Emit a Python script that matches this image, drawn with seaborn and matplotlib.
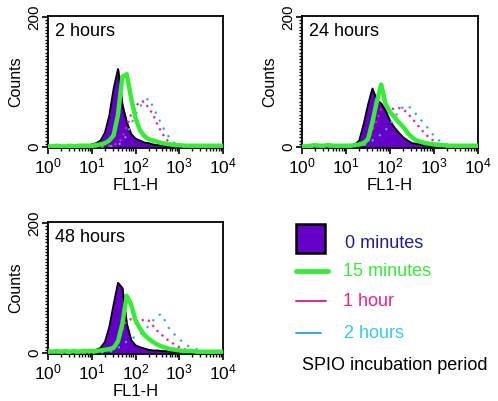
import numpy as np
import pandas as pd
import matplotlib
matplotlib.use('Agg')
import matplotlib.pyplot as plt
import matplotlib.ticker as mticker
from matplotlib.lines import Line2D
from matplotlib.patches import Rectangle
import seaborn as sns

# log10 of FL1-H channel (bin centres)
log_fl1 = [round(0.1 * i, 1) for i in range(41)]
decades = [0, 1, 2, 3, 4]

# counts per panel: 0 minutes (filled), 15 minutes, 1 hour, 2 hours
h2_0min = [1, 0, 1, 0, 1, 1, 1, 2, 2, 3, 4, 6, 10, 22, 48, 90, 120, 65, 38, 20, 13,
           10, 7, 6, 4, 3, 3, 2, 2, 1, 1, 1, 1, 0, 1, 0, 0, 0, 0, 0, 0]
h2_15min = [1, 1, 2, 1, 1, 2, 1, 2, 2, 2, 2, 3, 4, 6, 10, 18, 50, 108, 112, 75, 45,
            26, 17, 12, 10, 8, 6, 5, 4, 3, 3, 2, 2, 2, 2, 2, 2, 2, 2, 2, 2]
h2_1h = [0, 0, 0, 0, 0, 0, 0, 0, 0, 0, 0, 0, 1, 1, 2, 3, 6, 15, 32, 50, 62,
         70, 70, 60, 50, 35, 22, 12, 6, 3, 2, 1, 1, 1, 0, 1, 0, 0, 0, 0, 0]
h2_2h = [0, 0, 0, 0, 0, 0, 0, 0, 0, 0, 0, 0, 0, 1, 1, 2, 3, 8, 18, 35, 50,
         62, 70, 75, 62, 48, 34, 22, 12, 6, 3, 2, 1, 1, 0, 0, 1, 0, 0, 0, 0]

h24_0min = [1, 1, 0, 1, 1, 1, 1, 1, 1, 2, 2, 2, 4, 10, 35, 65, 90, 72, 67, 56, 40,
            30, 22, 15, 10, 6, 5, 4, 3, 2, 2, 1, 1, 1, 0, 0, 0, 0, 0, 0, 0]
h24_15min = [1, 1, 2, 3, 2, 2, 3, 2, 2, 2, 2, 2, 3, 4, 6, 12, 38, 70, 96, 66, 54,
             46, 38, 31, 22, 15, 10, 8, 6, 5, 4, 3, 3, 2, 2, 2, 2, 2, 2, 2, 2]
h24_1h = [0, 0, 0, 0, 0, 0, 0, 0, 0, 0, 0, 1, 1, 2, 4, 10, 25, 42, 58, 62, 60,
          58, 60, 58, 52, 44, 36, 28, 20, 14, 9, 5, 3, 2, 1, 1, 0, 0, 0, 0, 0]
h24_2h = [0, 0, 0, 1, 0, 0, 0, 0, 0, 0, 0, 0, 1, 2, 3, 5, 10, 14, 20, 26, 35,
          45, 55, 62, 64, 58, 50, 42, 34, 26, 17, 11, 6, 4, 2, 1, 1, 0, 0, 0, 0]

h48_0min = [2, 1, 2, 1, 2, 2, 1, 2, 3, 3, 4, 5, 8, 17, 40, 75, 108, 100, 45, 20, 12,
            9, 7, 5, 4, 4, 3, 3, 2, 2, 1, 1, 1, 1, 0, 0, 0, 0, 0, 0, 0]
h48_15min = [3, 2, 3, 2, 3, 2, 3, 2, 3, 3, 3, 3, 4, 5, 6, 8, 18, 45, 88, 75, 50,
             38, 28, 22, 17, 13, 10, 8, 6, 5, 4, 3, 3, 3, 2, 2, 2, 2, 2, 2, 2]
h48_1h = [0, 0, 0, 0, 0, 0, 0, 0, 0, 0, 1, 1, 1, 2, 4, 8, 18, 35, 50, 52, 48,
          48, 52, 50, 42, 34, 28, 22, 17, 13, 9, 6, 4, 3, 2, 1, 1, 0, 0, 0, 0]
h48_2h = [0, 0, 0, 0, 0, 0, 0, 0, 0, 0, 0, 0, 1, 1, 2, 3, 8, 12, 18, 22, 25,
          28, 34, 42, 50, 58, 60, 46, 34, 28, 22, 15, 11, 8, 6, 4, 3, 2, 1, 1, 0]

panel_titles = ['2 hours', '24 hours', '48 hours']
legend_labels = ['0 minutes', '15 minutes', '1 hour', '2 hours']
legend_title = 'SPIO incubation period'

purple = '#6400c8'
green = '#33ee33'
pink = '#ee2288'
blue = '#33aaee'

sns.set_style('ticks')
plt.rcParams['font.family'] = ['Liberation Sans', 'DejaVu Sans']
plt.rcParams['text.color'] = 'black'
plt.rcParams['axes.labelcolor'] = 'black'
plt.rcParams['xtick.color'] = 'black'
plt.rcParams['ytick.color'] = 'black'

fig = plt.figure(figsize=(4.98, 4.01), dpi=100)
W, H = 498.0, 401.0


def add_panel(left, top, right, bottom):
    return fig.add_axes([left / W, 1 - bottom / H, (right - left) / W, (bottom - top) / H])


def draw(ax, title, c0, c15, c1h, c2h):
    df = pd.DataFrame({'x': 10 ** np.array(log_fl1), 'c0': c0, 'c15': c15, 'c1h': c1h, 'c2h': c2h})
    ax.fill_between(df['x'], 0, df['c0'], color=purple, zorder=1)
    sns.lineplot(data=df, x='x', y='c0', ax=ax, color='black', lw=1.3, zorder=2)
    sns.lineplot(data=df, x='x', y='c1h', ax=ax, color=pink, lw=1.6, ls=(0, (1, 2)), zorder=3)
    sns.lineplot(data=df, x='x', y='c2h', ax=ax, color=blue, lw=1.6, ls=(0, (1, 3)), zorder=3)
    sns.lineplot(data=df, x='x', y='c15', ax=ax, color=green, lw=3.2, zorder=4)
    ax.set_xscale('log')
    ax.set_xlim(1, 1e4)
    ax.set_ylim(-1.5, 201.5)
    ax.set_xticks([10 ** d for d in decades])
    ax.set_xticklabels(['$\\mathregular{10^{%d}}$' % d for d in decades])
    ax.xaxis.set_minor_locator(mticker.LogLocator(base=10, subs=np.arange(2, 10), numticks=20))
    ax.xaxis.set_minor_formatter(mticker.NullFormatter())
    ax.set_yticks([0, 200])
    ax.yaxis.set_minor_locator(mticker.MultipleLocator(5))
    ax.tick_params(axis='x', which='major', direction='out', length=4, width=1.2, labelsize=12.5, pad=2)
    ax.tick_params(axis='y', which='major', direction='out', length=4, width=1.2, labelsize=11, pad=1)
    ax.tick_params(axis='both', which='minor', direction='out', length=2.5, width=1)
    for lab in ax.get_yticklabels():
        lab.set_rotation(90)
        lab.set_va('center')
    ax.set_xlabel('FL1-H', fontsize=12, labelpad=1)
    ax.set_ylabel('Counts', fontsize=11.5, labelpad=3)
    for s in ax.spines.values():
        s.set_linewidth(1.3)
        s.set_color('black')
        s.set_visible(True)
    ax.text(0.04, 0.95, title, transform=ax.transAxes, fontsize=13, va='top', ha='left')


ax1 = add_panel(48, 16, 223, 148)
draw(ax1, panel_titles[0], h2_0min, h2_15min, h2_1h, h2_2h)
ax2 = add_panel(302, 16, 478, 148)
draw(ax2, panel_titles[1], h24_0min, h24_15min, h24_1h, h24_2h)
ax3 = add_panel(48, 222, 223, 354)
draw(ax3, panel_titles[2], h48_0min, h48_15min, h48_1h, h48_2h)


# legend drawn in pixel coordinates of the figure
def fx(px):
    return px / W


def fy(py):
    return 1 - py / H


fig.add_artist(Rectangle((fx(296), fy(253)), 29 / W, 29 / H, transform=fig.transFigure,
                         facecolor=purple, edgecolor='black', lw=1.8))
fig.add_artist(Line2D([fx(296), fx(328)], [fy(271), fy(271)], transform=fig.transFigure, color=green, lw=3.5))
fig.add_artist(Line2D([fx(296), fx(326)], [fy(301), fy(301)], transform=fig.transFigure, color=pink, lw=1.4))
fig.add_artist(Line2D([fx(296), fx(321)], [fy(333), fy(333)], transform=fig.transFigure, color=blue, lw=1.4))
text_colors = ['#1c1ca8', green, pink, '#33ccee']
text_x = [345, 343, 343, 344]
text_y = [243, 272, 301, 334]
for lab, c, x, y in zip(legend_labels, text_colors, text_x, text_y):
    fig.text(fx(x), fy(y), lab, color=c, fontsize=13, va='center', ha='left')
fig.text(fx(302), fy(366), legend_title, color='black', fontsize=13, va='center', ha='left')

fig.savefig('out.png', dpi=100)
